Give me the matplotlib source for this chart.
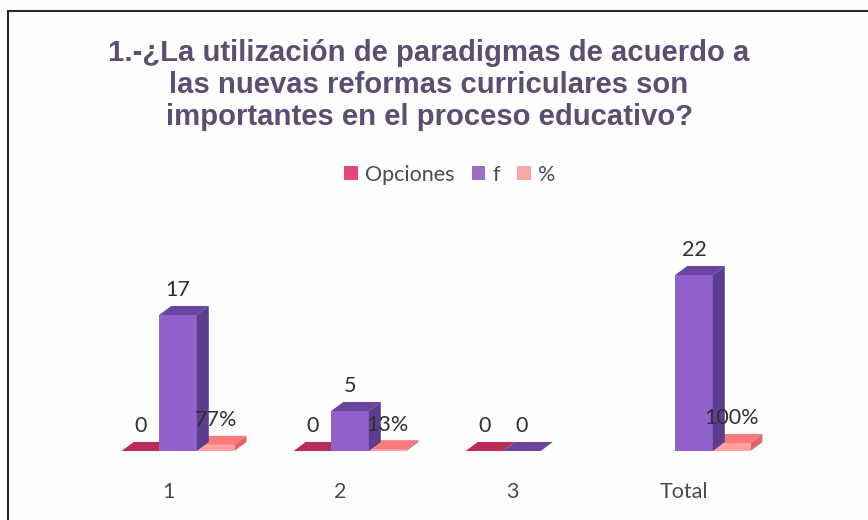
import matplotlib
matplotlib.use("Agg")
import matplotlib.pyplot as plt
from matplotlib.patches import Polygon, Rectangle

TITLE = "1.-¿La utilización de paradigmas de acuerdo a\nlas nuevas reformas curriculares son\nimportantes en el proceso educativo?"
categories = ["1", "2", "3", "Total"]
series_names = ["Opciones", "f", "%"]
opciones = [0, 0, 0, None]
f_values = [17, 5, 0, 22]
pct_values = [0.77, 0.23, None, 1.0]
pct_labels = ["77%", "13%", "", "100%"]

W, H = 868, 520
PX_PER_CAT = 172.0
PX_PER_UNIT = 8.0
BASE_Y = 451
X0 = 178
BAR_PX = 37.6
DX, DY = 12.0, 9.0
colors = {
    "Opciones": ("#c5355f", "#b92c55", "#a82650", "#e8457a"),
    "f": ("#9262cc", "#6a45a0", "#5c3d90", "#9b6ec8"),
    "%": ("#ffa0a0", "#f97a7a", "#e26464", "#f9a6a6"),
}

plt.rcParams["font.family"] = ["Lato", "DejaVu Sans"]
fig = plt.figure(figsize=(W / 100, H / 100), dpi=100, facecolor="#fffeff")

left, right, top = 100, 800, 240
ax = fig.add_axes([left / W, (H - BASE_Y) / H, (right - left) / W, (BASE_Y - top) / H])
ax.set_xlim((left - X0) / PX_PER_CAT, (right - X0) / PX_PER_CAT)
ax.set_ylim(0, (BASE_Y - top) / PX_PER_UNIT)
ax.patch.set_alpha(0)
for s in ax.spines.values():
    s.set_visible(False)
ax.set_yticks([])

w = BAR_PX / PX_PER_CAT
dx, dy = DX / PX_PER_CAT, DY / PX_PER_UNIT

handles = []
for k, (name, vals) in enumerate(zip(series_names, [opciones, f_values, pct_values])):
    front, topc, side, leg = colors[name]
    order = 4 if k == 1 else 3
    for i, v in enumerate(vals):
        if v is None:
            continue
        x = i + (k - 1) * w
        ax.bar(x, v, width=w, color=front, linewidth=0, zorder=order)
        xl, xr = x - w / 2, x + w / 2
        ax.add_patch(Polygon([(xl, v), (xr, v), (xr + dx, v + dy), (xl + dx, v + dy)],
                             closed=True, fc=topc, lw=0, zorder=order, clip_on=False))
        ax.add_patch(Polygon([(xr, 0), (xr, v), (xr + dx, v + dy), (xr + dx, dy)],
                             closed=True, fc=side, lw=0, zorder=order, clip_on=False))
        txt = pct_labels[i] if name == "%" else str(v)
        ax.annotate(txt, (x, v), xytext=(0, 24.5 * 0.72), textcoords="offset points",
                    ha="center", va="center", fontsize=15.5, color="#2e2e33", zorder=10)
    handles.append(Rectangle((0, 0), 1, 1, fc=leg, lw=0, label=name))

ax.set_xticks([i - 10 / PX_PER_CAT for i in range(len(categories))], categories)
ax.tick_params(axis="x", length=0, pad=22, labelsize=15.5, labelcolor="#4a4a52")

fig.legend(handles=handles, loc="center", bbox_to_anchor=(450 / W, 1 - 175 / H), ncol=3,
           frameon=False, fontsize=15.5, handlelength=0.62, handleheight=0.62,
           handletextpad=0.35, columnspacing=0.79, labelcolor="#4a4a52")

fig.text(429 / W, 1 - 85 / H, TITLE, ha="center", va="center", family="Liberation Sans",
         weight="bold", fontsize=21.1, color="#5d4d70", linespacing=1.2)

fig.add_artist(Rectangle((8 / W, -0.01), 1.05, 1 - 11 / H + 0.01, transform=fig.transFigure,
                         fill=False, ec="#2a2a2a", lw=1.5))

fig.savefig("out.png", dpi=100, facecolor=fig.get_facecolor())
